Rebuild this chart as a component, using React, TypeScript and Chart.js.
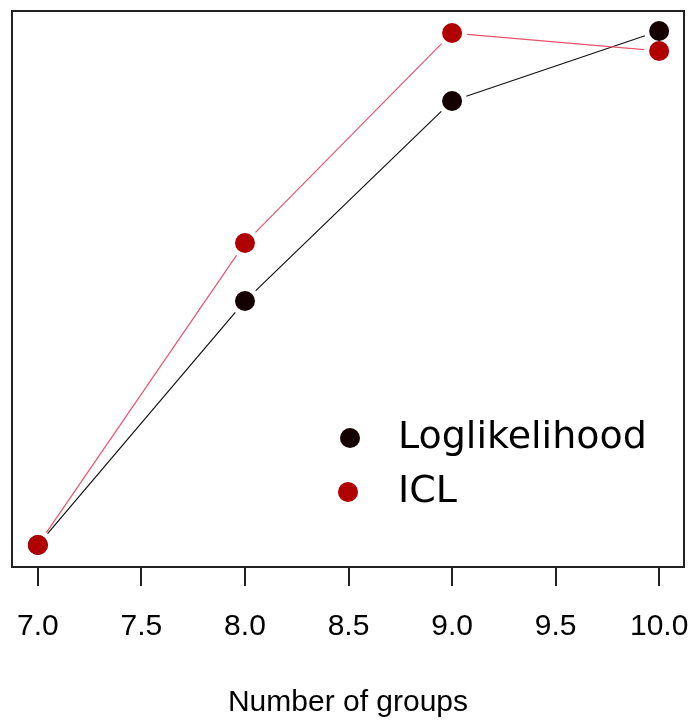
import React, { useEffect, useRef } from "react";
import { Chart, registerables } from "chart.js";

Chart.register(...registerables);

const groups = [7, 8, 9, 10];
const loglikelihood = [22, 266, 466, 536];
const icl = [22, 324, 534, 516];
const xTicks = [7.0, 7.5, 8.0, 8.5, 9.0, 9.5, 10.0];
const seriesNames = ["Loglikelihood", "ICL"];

const gapLines = {
  id: "gapLines",
  beforeDatasetsDraw(chart: any) {
    const ctx = chart.ctx;
    const xs = chart.scales.x;
    const ys = chart.scales.y;
    const gap = 15;
    chart.data.datasets.forEach((ds: any) => {
      ctx.save();
      ctx.strokeStyle = ds.lineColor;
      ctx.lineWidth = 1.2;
      for (let i = 0; i < ds.data.length - 1; i++) {
        const x0 = xs.getPixelForValue(ds.data[i].x);
        const y0 = ys.getPixelForValue(ds.data[i].y);
        const x1 = xs.getPixelForValue(ds.data[i + 1].x);
        const y1 = ys.getPixelForValue(ds.data[i + 1].y);
        const d = Math.hypot(x1 - x0, y1 - y0);
        if (d <= gap * 2) continue;
        const ux = (x1 - x0) / d, uy = (y1 - y0) / d;
        ctx.beginPath();
        ctx.moveTo(x0 + ux * gap, y0 + uy * gap);
        ctx.lineTo(x1 - ux * gap, y1 - uy * gap);
        ctx.stroke();
      }
      ctx.restore();
    });
  },
};

const frameAndLegend = {
  id: "frameAndLegend",
  afterDraw(chart: any) {
    const ctx = chart.ctx;
    const a = chart.chartArea;
    ctx.save();
    ctx.strokeStyle = "#222";
    ctx.lineWidth = 2;
    ctx.strokeRect(a.left, a.top, a.right - a.left, a.bottom - a.top);
    const items = [
      { label: seriesNames[0], color: "#140000", x: 350, y: 438 },
      { label: seriesNames[1], color: "#b00000", x: 348, y: 492 },
    ];
    ctx.font = "38px 'DejaVu Sans'";
    ctx.textBaseline = "middle";
    items.forEach((it) => {
      ctx.beginPath();
      ctx.fillStyle = it.color;
      ctx.arc(it.x, it.y, 10, 0, Math.PI * 2);
      ctx.fill();
      ctx.fillStyle = "#000";
      ctx.fillText(it.label, 398, it.y);
    });
    ctx.restore();
  },
};

export default function App() {
  const ref = useRef<HTMLCanvasElement>(null);
  useEffect(() => {
    document.body.style.margin = "0";
    const chart = new Chart(ref.current!, {
      type: "scatter",
      data: {
        datasets: [
          {
            label: seriesNames[0],
            data: groups.map((g, i) => ({ x: g, y: loglikelihood[i] })),
            backgroundColor: "#140000",
            borderColor: "#140000",
            pointRadius: 10,
            pointBorderWidth: 0,
            showLine: false,
            order: 1,
            lineColor: "#111111",
          } as any,
          {
            label: seriesNames[1],
            data: groups.map((g, i) => ({ x: g, y: icl[i] })),
            backgroundColor: "#b00000",
            borderColor: "#b00000",
            pointRadius: 10,
            pointBorderWidth: 0,
            showLine: false,
            order: 0,
            lineColor: "#e8546e",
          } as any,
        ],
      },
      options: {
        animation: false,
        responsive: false,
        layout: { padding: { left: 12, top: 11, right: 9, bottom: 2 } },
        plugins: { legend: { display: false }, tooltip: { enabled: false } },
        scales: {
          x: {
            type: "linear",
            min: 6.875,
            max: 10.12,
            afterBuildTicks: (axis: any) => {
              axis.ticks = xTicks.map((v) => ({ value: v }));
            },
            afterFit: (axis: any) => {
              axis.paddingLeft = 0;
              axis.paddingRight = 0;
              axis.height = 154;
            },
            border: { display: false },
            grid: {
              drawOnChartArea: false,
              drawTicks: true,
              tickLength: 19,
              lineWidth: 2,
              color: "#222",
            },
            ticks: {
              callback: (v: any) => Number(v).toFixed(1),
              font: { family: "'Liberation Sans', Arial", size: 30 },
              color: "#000",
              padding: 23,
              maxRotation: 0,
              autoSkip: false,
            },
            title: {
              display: true,
              text: "Number of groups",
              font: { family: "'Liberation Sans', Arial", size: 30 },
              color: "#000",
              padding: { top: 37, bottom: 0 },
            },
          },
          y: {
            display: false,
            min: 0,
            max: 556,
          },
        },
      },
      plugins: [gapLines, frameAndLegend],
    });
    return () => chart.destroy();
  }, []);
  return (
    <div style={{ width: 694, height: 723, background: "#fff" }}>
      <canvas ref={ref} width={694} height={723} />
    </div>
  );
}
